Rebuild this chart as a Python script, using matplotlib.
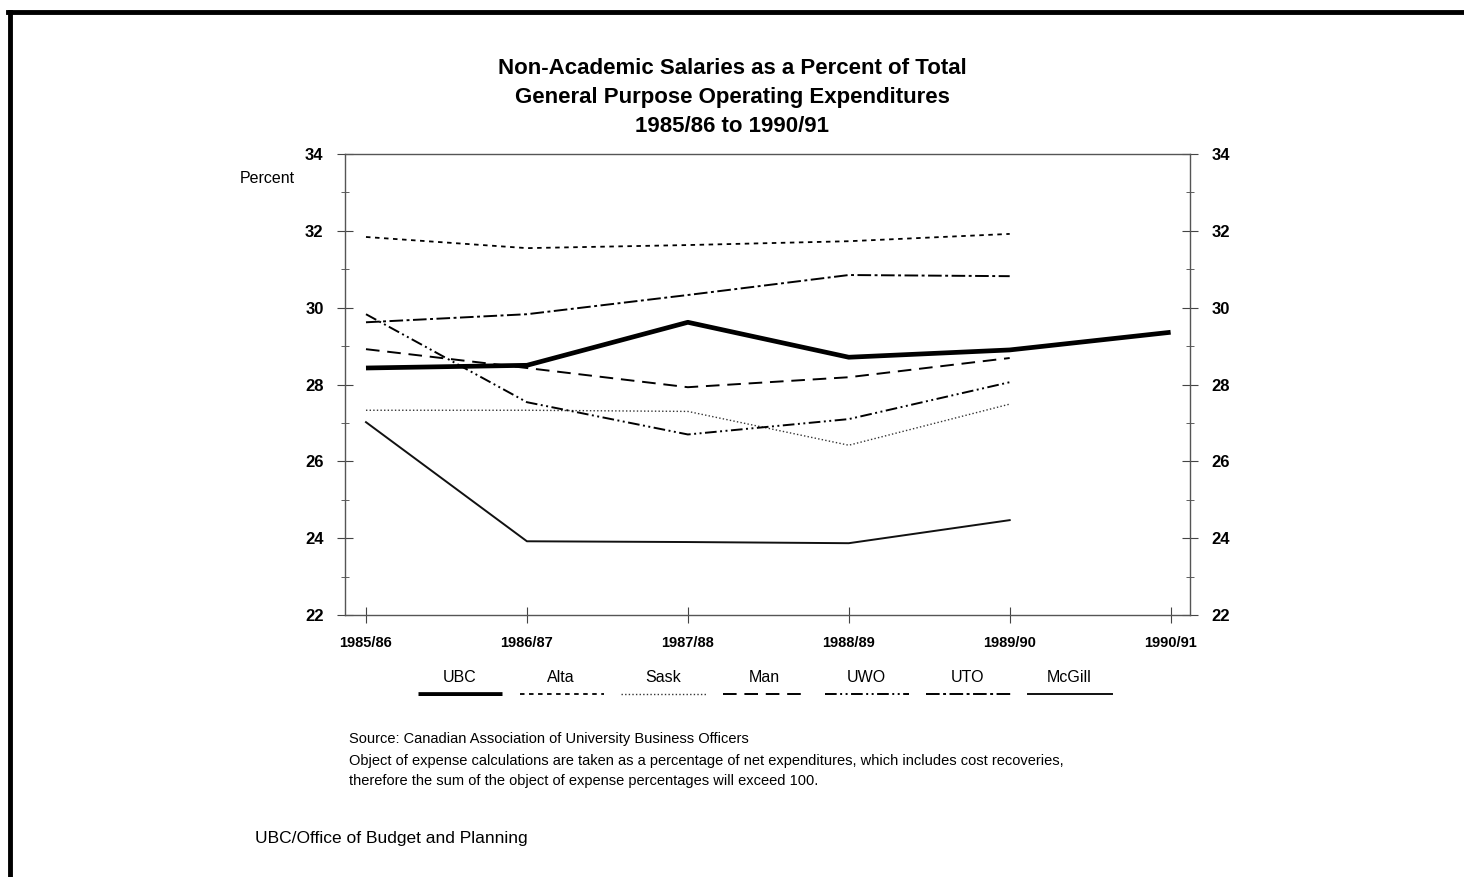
import matplotlib.pyplot as plt
from matplotlib.lines import Line2D
import numpy as np

plt.rcParams['font.family'] = ['Liberation Sans', 'DejaVu Sans']

years = ['1985/86', '1986/87', '1987/88', '1988/89', '1989/90', '1990/91']

ubc = [28.43, 28.5, 29.62, 28.71, 28.9, 29.36]
alta = [31.84, 31.55, 31.63, 31.73, 31.92]
sask = [27.33, 27.33, 27.3, 26.42, 27.49]
man = [28.92, 28.43, 27.93, 28.19, 28.69]
uwo = [29.83, 27.54, 26.7, 27.1, 28.06]
uto = [29.62, 29.83, 30.33, 30.85, 30.82]
mcgill = [27.02, 23.92, 23.9, 23.87, 24.47]

series = [
    ('UBC', ubc, dict(color='black', lw=3.4, ls='-', solid_capstyle='butt')),
    ('Alta', alta, dict(color='black', lw=1.3, ls=(0, (2.5, 2.5)))),
    ('Sask', sask, dict(color='#333333', lw=1.0, ls=(0, (1, 1.6)))),
    ('Man', man, dict(color='black', lw=1.4, ls=(0, (7, 4)))),
    ('UWO', uwo, dict(color='black', lw=1.4, ls=(0, (6, 1.8, 1, 1.8, 1, 1.8)))),
    ('UTO', uto, dict(color='black', lw=1.4, ls=(0, (7, 1.8, 1.5, 1.8)))),
    ('McGill', mcgill, dict(color='#111111', lw=1.4, ls='-')),
]

fig = plt.figure(figsize=(14.64, 8.77), dpi=100)

# page border (top and left edges of the scanned frame)
fig.add_artist(Line2D([0.007, 0.007], [0.0, 0.986], color='black', lw=3.5))
fig.add_artist(Line2D([0.0055, 1.0], [0.986, 0.986], color='black', lw=3.5))

ax = fig.add_axes([0.2357, 0.2987, 0.5771, 0.5257])
x = np.arange(len(years))
for name, vals, style in series:
    ax.plot(x[:len(vals)], vals, label=name, **style)

ax.set_xlim(-0.13, 5.12)
ax.set_ylim(22, 34)
ax.set_xticks(x)
ax.set_xticklabels(years, fontsize=10.5, fontweight='bold')
ax.set_yticks(np.arange(22, 35, 2))
ax.set_yticks(np.arange(23, 34, 2), minor=True)
ax.tick_params(axis='y', which='both', left=True, right=True, labelleft=True,
               labelright=True, direction='inout', labelsize=12, color='#444444')
ax.tick_params(axis='y', which='major', length=11, pad=10)
ax.tick_params(axis='y', which='minor', length=6)
ax.tick_params(axis='x', direction='inout', length=12, pad=9, color='#444444')
for lab in ax.get_yticklabels():
    lab.set_fontweight('bold')
for sp in ax.spines.values():
    sp.set_color('#555555')
    sp.set_linewidth(1.0)

fig.suptitle('Non-Academic Salaries as a Percent of Total\n'
             'General Purpose Operating Expenditures\n1985/86 to 1990/91',
             y=0.934, fontsize=16, fontweight='bold', linespacing=1.5)
fig.text(0.1824, 0.796, 'Percent', fontsize=11.5, ha='center', va='center')

# legend: label above a line sample
lax = fig.add_axes([0.282, 0.2064, 0.486, 0.024])
lax.set_xlim(0, len(series))
lax.set_ylim(0, 1)
lax.axis('off')
for i, (name, vals, style) in enumerate(series):
    lax.plot([i + 0.05, i + 0.88], [0.1, 0.1], **style)
    lax.text(i + 0.46, 0.9, name, ha='center', va='center', fontsize=11.5)

fig.text(0.2385, 0.157, 'Source: Canadian Association of University Business Officers',
         fontsize=10.5, va='center')
fig.text(0.2385, 0.132, 'Object of expense calculations are taken as a percentage of net '
         'expenditures, which includes cost recoveries,', fontsize=10.5, va='center')
fig.text(0.2385, 0.109, 'therefore the sum of the object of expense percentages will exceed 100.',
         fontsize=10.5, va='center')
fig.text(0.174, 0.044, 'UBC/Office of Budget and Planning', fontsize=12.5, va='center')

fig.savefig('out.png', dpi=100)
